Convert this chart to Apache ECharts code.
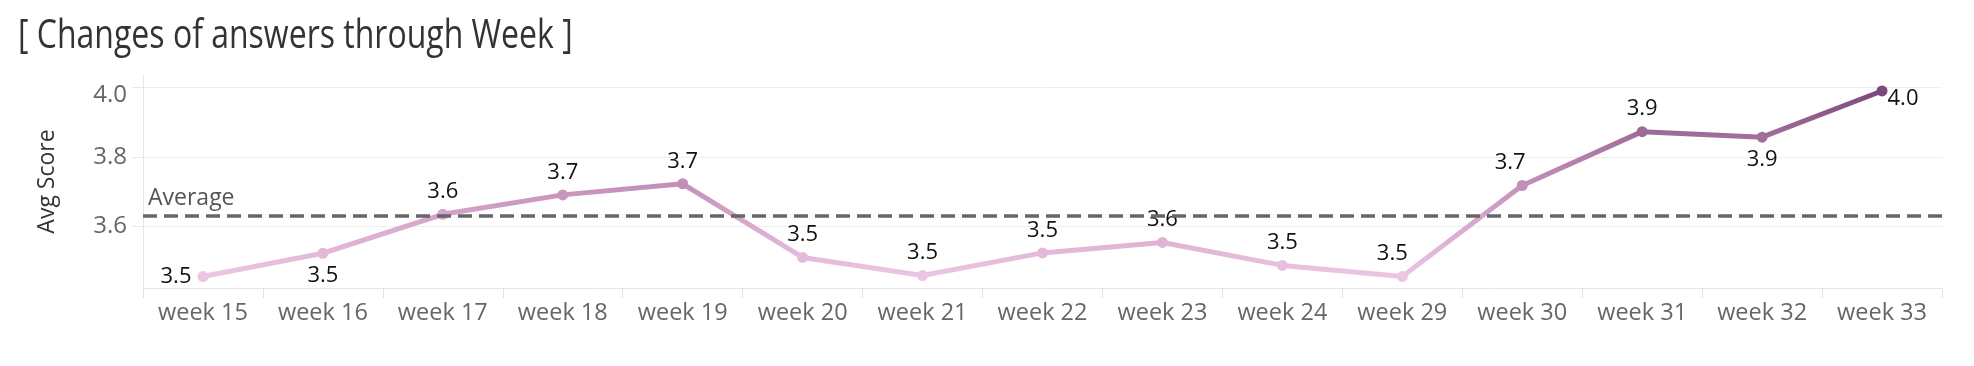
<!DOCTYPE html>
<html>
<head>
<meta charset="utf-8">
<script src="https://cdn.jsdelivr.net/npm/echarts@6/dist/echarts.min.js"></script>
<style>
html,body{margin:0;padding:0;background:#fff;}
#chart{width:1974px;height:366px;}
</style>
</head>
<body>
<div id="chart"></div>
<script>
const weeks = ['week 15','week 16','week 17','week 18','week 19','week 20','week 21','week 22','week 23','week 24','week 29','week 30','week 31','week 32','week 33'];
const avgScore = [3.456, 3.523, 3.635, 3.691, 3.723, 3.511, 3.459, 3.524, 3.554, 3.488, 3.456, 3.718, 3.873, 3.857, 3.990];
const yTicks = [3.6, 3.8, 4.0];
const yRange = [3.423, 4.036];
const titleText = '[ Changes of answers through Week ]';

const FONT = "'Open Sans', 'Noto Sans', sans-serif";

// label placement tweaks (style only)
const labelPos = {0: 'left', 1: 'bottom', 13: 'bottom', 14: 'right'};
const labelShift = {10: [-10, 0], 11: [-12, 0], 14: [-6, 8]};

const seriesData = avgScore.map((v, i) => {
  const lab = {position: labelPos[i] || 'top'};
  if (labelShift[i]) lab.offset = labelShift[i];
  return {value: v, label: lab};
});

const chart = echarts.init(document.getElementById('chart'), null, {renderer: 'canvas'});
chart.setOption({
  backgroundColor: '#ffffff',
  animation: false,
  graphic: [{
    type: 'text',
    x: 18, y: 17,
    scaleX: 0.8,
    silent: true,
    style: {
      x: 0, y: 0,
      text: titleText,
      fontFamily: FONT,
      fontSize: 40,
      fill: '#333333',
      verticalAlign: 'top',
      align: 'left'
    }
  }],
  grid: {left: 143, right: 32, top: 75, bottom: 78, containLabel: false},
  visualMap: {
    show: false,
    type: 'continuous',
    dimension: 1,
    seriesIndex: 0,
    min: Math.min(...avgScore),
    max: Math.max(...avgScore),
    inRange: {color: ['#ecc6e3', '#d5a3c9', '#b07ba5', '#7a497c']}
  },
  xAxis: {
    type: 'category',
    data: weeks,
    boundaryGap: true,
    axisLine: {show: true, onZero: false, lineStyle: {color: '#e6e6e6', width: 1}},
    axisTick: {show: true, length: 10, alignWithLabel: false, lineStyle: {color: '#e3e3e3', width: 1}},
    axisLabel: {interval: 0, margin: 13, color: '#666666', fontSize: 23.5, fontFamily: FONT},
    splitLine: {show: false}
  },
  yAxis: {
    type: 'value',
    min: yRange[0],
    max: yRange[1],
    name: 'Avg Score',
    nameLocation: 'middle',
    nameGap: 84,
    nameRotate: 90,
    nameTextStyle: {color: '#333333', fontSize: 23, fontFamily: FONT},
    axisLine: {show: true, lineStyle: {color: '#e6e6e6', width: 1}},
    axisTick: {show: true, length: 10, customValues: yTicks, lineStyle: {color: '#e6e6e6', width: 1}},
    axisLabel: {
      customValues: yTicks,
      margin: 16,
      color: '#666666', fontSize: 24, fontFamily: FONT,
      formatter: (v) => v >= 3.999 ? '{t|' + v.toFixed(1) + '}' : v.toFixed(1),
      rich: {t: {padding: [15, 0, 0, 0], color: '#666666', fontSize: 24, fontFamily: FONT}}
    },
    splitLine: {show: true, lineStyle: {color: '#eeeeee', width: 1}}
  },
  series: [{
    type: 'line',
    data: seriesData,
    symbol: 'circle',
    symbolSize: 11,
    lineStyle: {width: 5},
    label: {
      show: true,
      distance: 6,
      color: '#111111',
      fontSize: 22,
      fontFamily: FONT,
      formatter: (p) => p.value.toFixed(1)
    },
    markLine: {
      silent: true,
      symbol: 'none',
      data: [{type: 'average', name: 'Average'}],
      lineStyle: {color: '#666666', type: [14, 7], width: 3.5},
      label: {
        show: true,
        position: 'insideStartTop',
        formatter: 'Average',
        color: '#555555',
        fontSize: 23,
        fontFamily: FONT,
        distance: [5, 6]
      },
      emphasis: {disabled: true}
    },
    z: 3
  }]
});
</script>
</body>
</html>
